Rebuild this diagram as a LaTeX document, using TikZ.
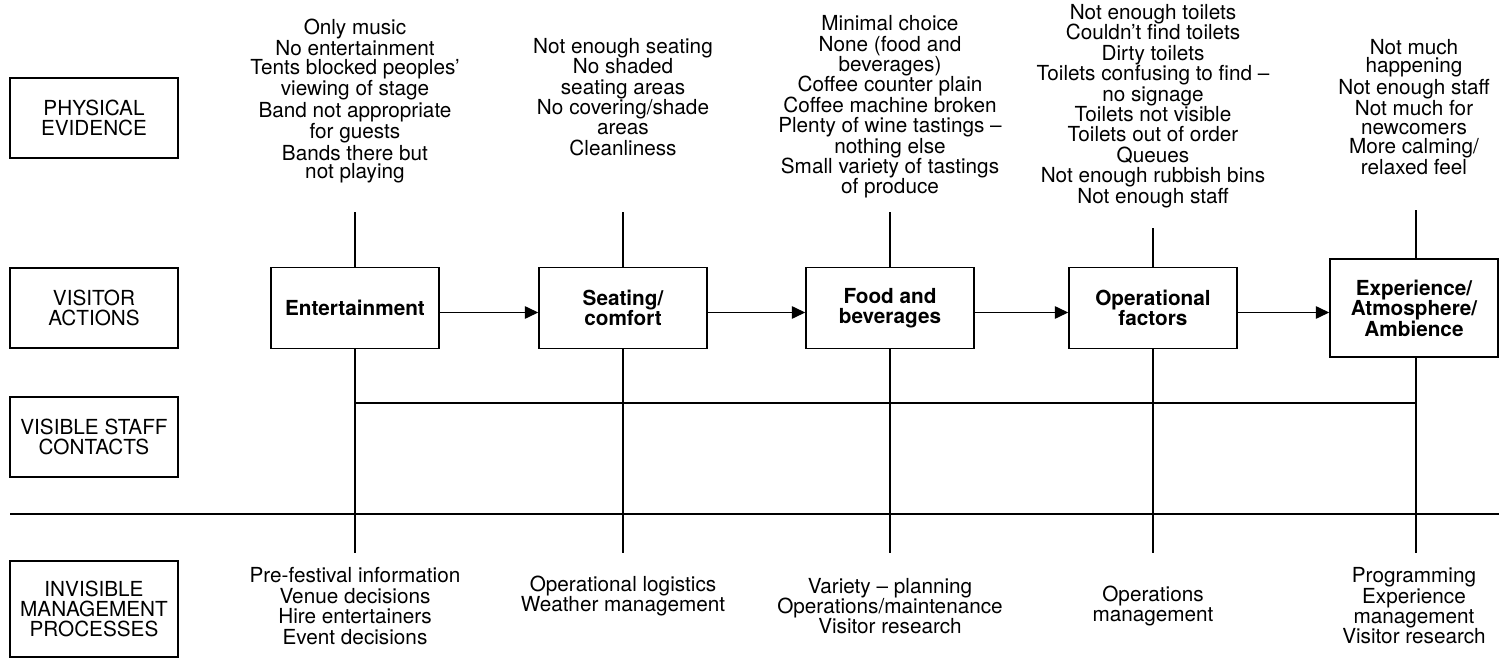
\documentclass[tikz,border=0pt]{standalone}
\usepackage{fontspec}
\setmainfont{TeX Gyre Heros}
\usepackage{tikz}
\usetikzlibrary{arrows.meta, positioning}

\begin{document}
\begin{tikzpicture}[
        x=0.02cm, y=-0.02cm,
        txt/.style={font=\fontsize{11.8}{11.6}\selectfont},
        tight/.style={font=\fontsize{11.8}{10.7}\selectfont},
        rowlabel/.style={draw, line width=0.85pt, txt, align=center, minimum width=3.36cm, minimum height=1.6cm, inner sep=2pt},
        stage/.style={draw, line width=0.85pt, font=\fontsize{11.8}{11.6}\selectfont\bfseries, align=center, minimum width=3.36cm, minimum height=1.62cm},
        notes/.style={txt, align=center, inner sep=0pt},
        flow/.style={-{Triangle[length=0.27cm, width=0.25cm]}, line width=0.85pt, transform canvas={yshift=-0.09cm}},
        rule/.style={line width=0.8pt}
    ]
        \useasboundingbox (0,0) rectangle (1499,659);

        % Row labels
        \node[rowlabel] (physical) at (94,118) {PHYSICAL\\EVIDENCE};
        \node[rowlabel] (actions) at (94,308) {VISITOR\\ACTIONS};
        \node[rowlabel] (contacts) at (94,437) {VISIBLE STAFF\\CONTACTS};
        \node[rowlabel, minimum height=1.92cm] (invisible) at (94,609) {INVISIBLE\\MANAGEMENT\\PROCESSES};

        % Stages
        \node[stage] (entertain) at (355,308) {Entertainment};
        \node[stage] (seating) at (623,308) {Seating/\\comfort};
        \node[stage] (food) at (890,308) {Food and\\beverages};
        \node[stage] (operate) at (1153,308) {Operational\\factors};
        \node[stage, minimum height=1.96cm] (experience) at (1414,308) {Experience/\\Atmosphere/\\Ambience};

        % Physical evidence notes
        \node[notes, tight] (pe1) at (355,101) {Only music\\No entertainment\\Tents blocked peoples'\\viewing of stage\\Band not appropriate\\for guests\\Bands there but\\not playing};
        \node[notes] (pe2) at (623,97) {Not enough seating\\No shaded\\seating areas\\No covering/shade\\areas\\Cleanliness};
        \node[notes] (pe3) at (890,107) {Minimal choice\\None (food and\\beverages)\\Coffee counter plain\\Coffee machine broken\\Plenty of wine tastings --\\nothing else\\Small variety of tastings\\of produce};
        \node[notes] (pe4) at (1153,106) {Not enough toilets\\Couldn’t find toilets\\Dirty toilets\\Toilets confusing to find --\\no signage\\Toilets not visible\\Toilets out of order\\Queues\\Not enough rubbish bins\\Not enough staff};
        \node[notes, tight] (pe5) at (1414,107) {Not much\\happening\\Not enough staff\\Not much for\\newcomers\\More calming/\\relaxed feel};

        % Management notes
        \node[notes] (mp1) at (355,606) {Pre-festival information\\Venue decisions\\Hire entertainers\\Event decisions};
        \node[notes] (mp2) at (623,596) {Operational logistics\\Weather management};
        \node[notes] (mp3) at (890,606) {Variety -- planning\\Operations/maintenance\\Visitor research};
        \node[notes] (mp4) at (1153,606) {Operations\\management};
        \node[notes] (mp5) at (1414,606) {Programming\\Experience\\management\\Visitor research};

        % Line ends
        \coordinate (top1) at (355,212);
        \coordinate (top2) at (623,212);
        \coordinate (top3) at (890,212);
        \coordinate (top4) at (1153,228);
        \coordinate (top5) at (1416,210);
        \coordinate (bot1) at (355,553);
        \coordinate (bot2) at (623,553);
        \coordinate (bot3) at (890,553);
        \coordinate (bot4) at (1153,553);
        \coordinate (bot5) at (1416,553);
        \coordinate (staffL) at (355,403);
        \coordinate (staffR) at (1416,403);
        \coordinate (lineL) at (10,514);
        \coordinate (lineR) at (1499,514);

        % Verticals
        \draw[rule] (top1) -- (entertain.north);
        \draw[rule] (entertain.south) -- (bot1);
        \draw[rule] (top2) -- (seating.north);
        \draw[rule] (seating.south) -- (bot2);
        \draw[rule] (top3) -- (food.north);
        \draw[rule] (food.south) -- (bot3);
        \draw[rule] (top4) -- (operate.north);
        \draw[rule] (operate.south) -- (bot4);
        \draw[rule] (top5) -- (top5 |- experience.north);
        \draw[rule] (top5 |- experience.south) -- (bot5);

        % Staff contact line and line of visibility
        \draw[rule] (staffL) -- (staffR);
        \draw[rule] (lineL) -- (lineR);

        % Arrows
        \draw[flow] (entertain) -- (seating);
        \draw[flow] (seating) -- (food);
        \draw[flow] (food) -- (operate);
        \draw[flow] (operate) -- (experience);
    \end{tikzpicture}
\end{document}
